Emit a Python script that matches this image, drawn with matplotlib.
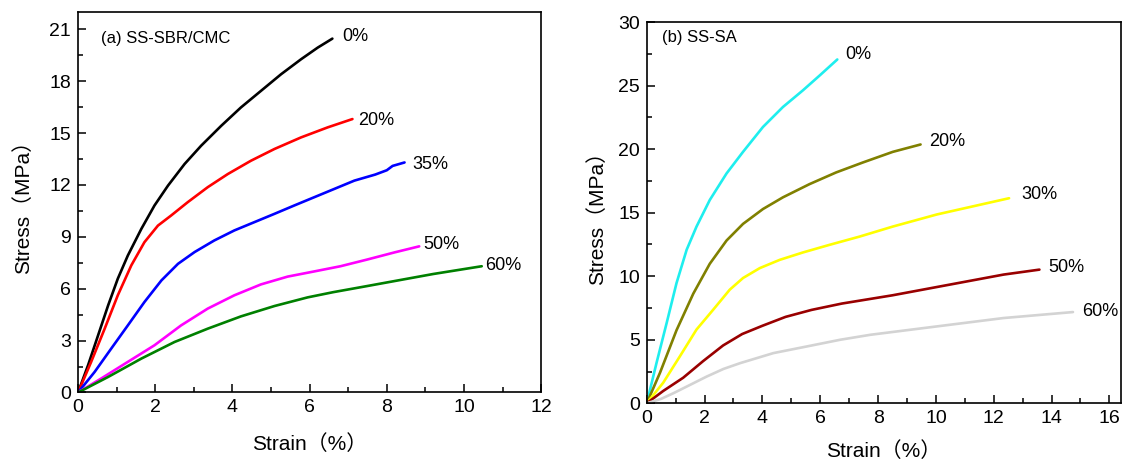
import matplotlib
matplotlib.use("Agg")
import matplotlib.pyplot as plt
from matplotlib.ticker import MultipleLocator

FONT = ['Liberation Sans', 'Noto Sans CJK SC', 'DejaVu Sans']
plt.rcParams['font.family'] = FONT

# ---------- Panel (a) SS-SBR/CMC ----------
a_labels = ['0%', '20%', '35%', '50%', '60%']
a_colors = ['#000000', '#FF0000', '#0000FF', '#FF00FF', '#008000']
a0_x = [0, 0.26, 0.52, 0.78, 1.03, 1.29, 1.64, 1.98, 2.33, 2.76, 3.19, 3.71, 4.22, 4.74, 5.26, 5.78, 6.21, 6.59]
a0_y = [0, 1.58, 3.31, 5.04, 6.58, 7.92, 9.46, 10.81, 11.96, 13.21, 14.27, 15.42, 16.48, 17.44, 18.4, 19.27, 19.94, 20.46]
a20_x = [0, 0.34, 0.69, 1.03, 1.38, 1.72, 2.07, 2.41, 2.84, 3.36, 3.88, 4.48, 5.09, 5.78, 6.47, 7.11]
a20_y = [0, 1.77, 3.69, 5.62, 7.35, 8.69, 9.65, 10.23, 11.0, 11.87, 12.63, 13.4, 14.08, 14.75, 15.33, 15.81]
a35_x = [0, 0.43, 0.86, 1.29, 1.72, 2.16, 2.59, 3.02, 3.53, 4.05, 4.57, 5.09, 5.6, 6.12, 6.64, 7.16, 7.7, 8.0, 8.15, 8.46]
a35_y = [0, 1.19, 2.54, 3.88, 5.23, 6.48, 7.44, 8.12, 8.79, 9.37, 9.85, 10.33, 10.81, 11.29, 11.77, 12.25, 12.6, 12.85, 13.1, 13.3]
a50_x = [0, 0.6, 1.29, 1.98, 2.67, 3.36, 4.05, 4.74, 5.43, 6.12, 6.8, 7.48, 8.2, 8.84]
a50_y = [0, 0.81, 1.77, 2.73, 3.88, 4.85, 5.62, 6.25, 6.7, 7.0, 7.3, 7.68, 8.1, 8.45]
a60_x = [0, 0.78, 1.64, 2.5, 3.36, 4.22, 5.09, 5.95, 6.61, 7.48, 8.34, 9.2, 10.46]
a60_y = [0, 0.9, 1.96, 2.92, 3.69, 4.4, 5.0, 5.5, 5.8, 6.15, 6.5, 6.85, 7.3]
a_label_pos = [(6.85, 20.6), (7.26, 15.73), (8.65, 13.2), (8.95, 8.55), (10.56, 7.34)]

# ---------- Panel (b) SS-SA ----------
b_labels = ['0%', '20%', '30%', '50%', '60%']
b_colors = ['#1EEEEE', '#808000', '#FFFF00', '#990000', '#D3D3D3']
b0_x = [0, 0.34, 0.69, 1.03, 1.38, 1.72, 2.18, 2.76, 3.33, 4.02, 4.71, 5.4, 5.98, 6.59]
b0_y = [0, 3.19, 6.33, 9.46, 12.08, 13.9, 16.0, 18.09, 19.79, 21.75, 23.32, 24.63, 25.8, 27.06]
b20_x = [0, 0.46, 1.03, 1.61, 2.18, 2.76, 3.33, 4.02, 4.71, 5.63, 6.55, 7.47, 8.51, 9.47]
b20_y = [0, 2.41, 5.75, 8.63, 10.98, 12.81, 14.12, 15.29, 16.21, 17.25, 18.17, 18.95, 19.79, 20.37]
b30_x = [0, 0.57, 1.15, 1.72, 2.3, 2.87, 3.33, 3.91, 4.6, 5.4, 6.32, 7.36, 8.51, 10.03, 12.53]
b30_y = [0, 1.62, 3.71, 5.8, 7.37, 8.94, 9.86, 10.64, 11.29, 11.87, 12.47, 13.12, 13.91, 14.86, 16.14]
b50_x = [0, 0.57, 1.26, 1.95, 2.64, 3.3, 4.0, 4.8, 5.7, 6.75, 8.5, 10.03, 12.34, 13.58]
b50_y = [0, 0.97, 2.01, 3.32, 4.55, 5.45, 6.1, 6.8, 7.35, 7.85, 8.5, 9.15, 10.13, 10.52]
b60_x = [0, 0.5, 0.92, 1.5, 2.07, 2.65, 3.23, 4.38, 5.53, 6.69, 7.73, 10.03, 12.34, 14.74]
b60_y = [0, 0.35, 0.79, 1.45, 2.1, 2.7, 3.16, 3.95, 4.47, 5.0, 5.39, 6.05, 6.71, 7.18]
b_label_pos = [(6.85, 27.45), (9.76, 20.6), (12.97, 16.4), (13.9, 10.72), (15.04, 7.23)]

a_series = [(a0_x, a0_y), (a20_x, a20_y), (a35_x, a35_y), (a50_x, a50_y), (a60_x, a60_y)]
b_series = [(b0_x, b0_y), (b20_x, b20_y), (b30_x, b30_y), (b50_x, b50_y), (b60_x, b60_y)]

fig = plt.figure(figsize=(11.23, 4.61), dpi=100)
axA = fig.add_axes([0.0695, 0.1486, 0.4124, 0.8254])
axB = fig.add_axes([0.5759, 0.1252, 0.4223, 0.8268])


def style(ax, xmaj, xmin, ymaj, ymin):
    ax.xaxis.set_major_locator(MultipleLocator(xmaj))
    ax.xaxis.set_minor_locator(MultipleLocator(xmin))
    ax.yaxis.set_major_locator(MultipleLocator(ymaj))
    ax.yaxis.set_minor_locator(MultipleLocator(ymin))
    ax.tick_params(which='both', direction='in', top=False, right=False,
                   width=1.1, labelsize=14, colors='black')
    ax.tick_params(which='major', length=6, pad=5)
    ax.tick_params(which='minor', length=3.5)
    for s in ax.spines.values():
        s.set_linewidth(1.2)
    for lab in ax.get_xticklabels() + ax.get_yticklabels():
        lab.set_family(FONT)


for (x, y), c in zip(a_series, a_colors):
    axA.plot(x, y, color=c, lw=1.9, solid_capstyle='round', solid_joinstyle='round')
for (lx, ly), t in zip(a_label_pos, a_labels):
    axA.text(lx, ly, t, fontsize=13, va='center', ha='left')
axA.set_xlim(0, 12)
axA.set_ylim(0, 22)
style(axA, 2, 1, 3, 1.5)
axA.text(0.049, 0.931, '(a) SS-SBR/CMC', transform=axA.transAxes, fontsize=12,
         va='center', ha='left')
axA.set_xlabel('Strain（%）', fontsize=15, labelpad=13)
axA.set_ylabel('Stress（MPa）', fontsize=15, labelpad=12)

for (x, y), c in zip(b_series, b_colors):
    axB.plot(x, y, color=c, lw=1.9, solid_capstyle='round', solid_joinstyle='round')
for (lx, ly), t in zip(b_label_pos, b_labels):
    axB.text(lx, ly, t, fontsize=13, va='center', ha='left')
axB.set_xlim(0, 16.4)
axB.set_ylim(0, 30)
style(axB, 2, 1, 5, 2.5)
axB.text(0.032, 0.96, '(b) SS-SA', transform=axB.transAxes, fontsize=12,
         va='center', ha='left')
axB.set_xlabel('Strain（%）', fontsize=15, labelpad=10)
axB.set_ylabel('Stress（MPa）', fontsize=15, labelpad=8)

fig.savefig('out.png', dpi=100)
